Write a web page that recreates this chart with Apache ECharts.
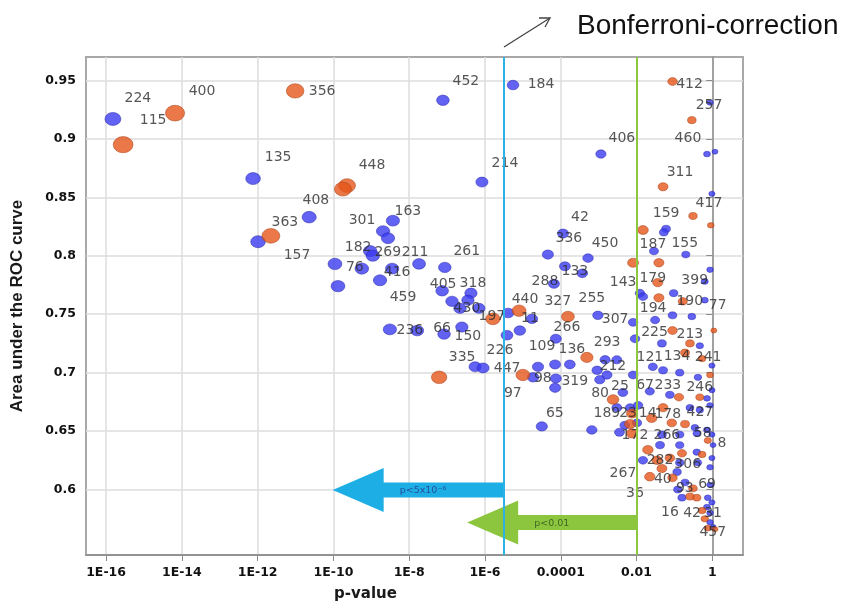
<!DOCTYPE html>
<html>
<head>
<meta charset="utf-8">
<script src="https://cdn.jsdelivr.net/npm/echarts@6/dist/echarts.min.js"></script>
<style>
  html, body { margin: 0; background: #fff; }
  #chart { width: 846px; height: 604px; }
</style>
</head>
<body>
<div id="chart"></div>
<script>
// x is log10(p-value)
const xTicks = [-16, -14, -12, -10, -8, -6, -4, -2, 0];
const xTickLabels = ["1E-16", "1E-14", "1E-12", "1E-10", "1E-8", "1E-6", "0.0001", "0.01", "1"];
const yTicks = [0.6, 0.65, 0.7, 0.75, 0.8, 0.85, 0.9, 0.95];

// vertical cut-offs: Bonferroni and p<0.01
const cutLogP = [-5.5, -2];

// blue markers
const blueLogP = [
  -15.82, -12.12, -11.99, -10.64, -8.69, -8.43, -8.56, -9.03, -8.96, -7.74,
  -9.25, -9.96, -9.88, -8.45, -8.77, -7.06, -7.13, -6.37, -6.87, -6.45,
  -6.66, -6.16, -5.39, -4.76, -5.08, -5.42, -8.51, -7.79, -7.08, -6.61,
  -6.26, -6.05, -4.73, -4.13, -4.60, -4.15, -4.15, -3.76, -2.97, -4.13,
  -4.18, -3.02, -2.09, -2.83, -2.52, -3.04, -2.78, -2.36, -2.09, -1.12,
  -4.50, -3.18, -2.52, -2.17, -0.46, -1.99, -1.33, -0.41, 0.02, -0.86,
  -1.83, -0.91, -0.06, -0.80, -0.06, -0.06, 0.07, -0.14, -0.01, -1.22,
  -1.28, -3.94, -4.34, -3.28, -1.54, -0.70, -3.89, -3.43, -0.20, -0.06,
  -1.91, -1.51, -1.83, -1.02, -0.20, -1.05, -0.54, -1.33, -0.33, -2.04,
  -0.01, -1.30, -1.57, -0.86, -0.38, -0.14, -1.65, -0.01, -1.96, -0.59,
  -0.33, -0.06, -0.14, -0.86, -0.01, -1.38, -0.86, -0.41, -0.38, -0.01,
  -0.06, -0.72, -0.12, -0.14, -0.06, 0.02, -0.01, -0.93, -2.31, -2.45,
  -7.11, -5.26, -6.08, -2.94
];
const blueAuc = [
  0.917, 0.866, 0.812, 0.833, 0.821, 0.830, 0.815, 0.804, 0.800, 0.793,
  0.789, 0.793, 0.774, 0.789, 0.779, 0.790, 0.770, 0.768, 0.761, 0.762,
  0.755, 0.755, 0.751, 0.746, 0.736, 0.732, 0.737, 0.736, 0.733, 0.739,
  0.705, 0.704, 0.696, 0.695, 0.705, 0.687, 0.707, 0.707, 0.694, 0.729,
  0.776, 0.749, 0.743, 0.711, 0.711, 0.702, 0.698, 0.683, 0.698, 0.681,
  0.654, 0.651, 0.670, 0.670, 0.653, 0.657, 0.647, 0.648, 0.638, 0.623,
  0.625, 0.600, 0.604, 0.593, 0.580, 0.931, 0.889, 0.887, 0.853, 0.823,
  0.820, 0.819, 0.801, 0.798, 0.804, 0.801, 0.791, 0.785, 0.778, 0.788,
  0.768, 0.745, 0.765, 0.768, 0.762, 0.749, 0.748, 0.725, 0.723, 0.729,
  0.706, 0.702, 0.705, 0.700, 0.696, 0.678, 0.684, 0.685, 0.672, 0.670,
  0.668, 0.672, 0.651, 0.647, 0.647, 0.638, 0.638, 0.632, 0.623, 0.627,
  0.619, 0.606, 0.593, 0.585, 0.572, 0.568, 0.589, 0.615, 0.655, 0.649,
  0.933, 0.946, 0.863, 0.887
];
const blueTag = [
  "224", "135", "157", "", "301", "163", "", "182", "269", "211",
  "76", "", "", "416", "459", "261", "405", "318", "", "",
  "430", "", "", "11", "", "226", "236", "", "66", "150",
  "335", "447", "", "98", "109", "", "", "136", "319", "327",
  "288", "255", "307", "293", "212", "", "", "25", "67", "233",
  "65", "", "189", "23", "427", "", "266", "58", "8", "306",
  "267", "93", "69", "16", "31", "257", "460", "", "417", "159",
  "", "42", "336", "450", "187", "155", "133", "", "399", "",
  "", "194", "", "", "77", "", "213", "121", "", "",
  "", "", "", "", "", "", "", "", "", "",
  "", "", "", "", "", "", "", "", "", "",
  "", "", "", "", "", "", "", "", "", "",
  "452", "184", "214", "406"
];

// orange markers
const orangeLogP = [
  -15.55, -14.18, -11.01, -11.65, -9.64, -9.75, -5.79, -5.10, -7.21, -5.00,
  -3.31, -3.81, -2.62, -0.33, -1.60, -1.07, -2.17, -2.12, -1.46, -1.65,
  -1.33, -0.27, -0.12, -1.05, -0.54, -1.30, -0.51, -0.04, -1.83, -2.09,
  -1.41, -1.44, -0.78, 0.04, -1.05, -0.72, -0.27, -0.59, -0.06, -0.88,
  -1.30, -0.72, -0.12, -1.70, -0.80, -1.12, -0.27, -1.05, -0.51, -0.59,
  -0.41, -0.20, 0.07, -1.41, -2.12
];
const orangeAuc = [
  0.895, 0.922, 0.941, 0.817, 0.860, 0.857, 0.746, 0.753, 0.696, 0.698,
  0.713, 0.748, 0.677, 0.679, 0.661, 0.657, 0.656, 0.648, 0.625, 0.611,
  0.618, 0.582, 0.567, 0.949, 0.916, 0.859, 0.834, 0.826, 0.822, 0.794,
  0.794, 0.777, 0.761, 0.736, 0.736, 0.717, 0.712, 0.725, 0.698, 0.679,
  0.670, 0.656, 0.642, 0.634, 0.631, 0.627, 0.630, 0.610, 0.601, 0.594,
  0.593, 0.575, 0.566, 0.764, 0.665
];
const orangeTag = [
  "115", "400", "356", "363", "448", "408", "197", "440", "", "97",
  "", "266", "80", "246", "14", "178", "", "172", "282", "40",
  "36", "42", "457", "412", "", "311", "", "", "", "143",
  "", "179", "190", "", "225", "134", "241", "", "", "",
  "", "", "", "", "", "", "", "", "", "",
  "", "", "", "", ""
];

// arrows in the lower part: tip, tail (log10 p) and height (AUC)
const arrowTip = [-10.02, -6.47];
const arrowTail = [-5.5, -2.0];
const arrowAuc = [0.5996, 0.5718];
const arrowText = ["p<5x10\u207B\u2076", "p<0.01"];

// label offsets in pixels, relative to the marker centre
const blueShift = {
  224: [25, -21], 135: [25, -21], 157: [39, 14], 301: [-21, -11], 163: [15, -9],
  182: [-12, -4], 269: [15, -3], 211: [-4, -12], 76: [-7, -1], 416: [5, 4],
  459: [23, 17], 261: [22, -16], 405: [1, -6], 318: [2, -10], 430: [7, 0],
  11: [-2, 0], 226: [-7, 15], 236: [20, 1], 66: [-2, -6], 150: [6, 9],
  335: [-13, -9], 447: [24, 0], 98: [-13, 0], 109: [4, -20], 136: [2, -15],
  319: [-25, 2], 327: [2, -37], 288: [-9, -2], 255: [-6, -17], 307: [-18, -3],
  293: [2, -17], 212: [-4, 7], 25: [-3, -6], 67: [12, 10], 233: [-2, -9],
  65: [13, -13], 189: [-10, 6], 23: [-2, 6], 427: [5, -15], 266: [5, 1],
  58: [6, 0], 8: [9, -2], 306: [8, 2], 267: [-20, 13], 93: [7, -1],
  69: [-3, 0], 16: [-12, 15], 31: [3, 0], 257: [-1, 3], 460: [-27, -13],
  417: [-3, 10], 159: [0, -15], 42: [17, -16], 336: [21, -16], 450: [17, -15],
  187: [-1, -7], 155: [-1, -11], 133: [10, 5], 399: [-10, -1], 194: [-2, -12],
  77: [13, 5], 213: [-2, 18], 121: [-12, 14], 452: [23, -19], 184: [28, -1],
  214: [23, -19], 406: [21, -16]
};
const orangeShift = {
  115: [30, -24], 400: [27, -22], 356: [27, 0], 363: [14, -13], 448: [25, -20],
  408: [-27, 11], 197: [-1, -2], 440: [6, -11], 97: [-10, 18], 266: [-1, 11],
  80: [-13, -6], 246: [0, -10], 14: [-4, -5], 178: [-4, -9], 172: [3, 2],
  282: [3, 0], 40: [13, 3], 36: [-27, 25], 42: [-10, 3], 457: [5, 4],
  412: [17, 3], 311: [17, -14], 143: [-10, 20], 179: [-5, -4], 190: [7, 0],
  225: [-18, 2], 134: [-8, 4], 241: [6, -1]
};

const BLUE = "#3b3bf0";
const ORANGE = "#e5561c";
const ELLIPSE = "path://M0,5a7,5 0 1,0 14,0a7,5 0 1,0 -14,0z";

function markerWidth(lp, k) {
  return 6 + k * Math.sqrt(Math.max(0, -lp) / 16);
}

function buildPoints(logP, auc, tags, shift, k) {
  return logP.map((lp, i) => {
    const w = markerWidth(lp, k);
    const item = { value: [lp, auc[i]], symbolSize: [w, w * 0.82] };
    if (tags[i]) {
      item.label = {
        show: true,
        formatter: tags[i],
        offset: shift[tags[i]] || [12, -10]
      };
    }
    return item;
  });
}

const pointLabel = {
  show: false,
  position: "inside",
  color: "#2b2b2b",
  fontSize: 14,
  fontFamily: "DejaVu Sans",
  textBorderWidth: 0,
  align: "center",
  verticalAlign: "middle"
};

const chart = echarts.init(document.getElementById("chart"));

const option = {
  animation: false,
  backgroundColor: "#fff",
  grid: {
    left: 86,
    right: 103,
    top: 57,
    bottom: 49,
    show: true,
    borderColor: "#a8a8a8",
    borderWidth: 2,
    outerBoundsMode: "none"
  },
  xAxis: {
    type: "value",
    min: -16.53,
    max: 0.81,
    name: "p-value",
    nameLocation: "middle",
    nameGap: 32,
    nameTextStyle: {
      fontFamily: "DejaVu Sans",
      fontWeight: "bold",
      fontSize: 15,
      color: "#1a1a1a",
      padding: [0, 98, 0, 0]
    },
    axisLine: { show: true, lineStyle: { color: "#8a8a8a", width: 1.5 } },
    axisTick: { show: true, customValues: xTicks, length: 6, lineStyle: { color: "#8a8a8a" } },
    axisLabel: {
      customValues: xTicks,
      margin: 11,
      fontFamily: "DejaVu Sans",
      fontWeight: "bold",
      fontSize: 12.5,
      color: "#111",
      formatter: (v) => xTickLabels[xTicks.indexOf(v)]
    },
    splitLine: { show: true, lineStyle: { color: "#dcdcdc", width: 1.5 } }
  },
  yAxis: {
    type: "value",
    min: 0.544,
    max: 0.97,
    name: "Area under the ROC curve",
    nameLocation: "middle",
    nameGap: 60,
    nameTextStyle: {
      fontFamily: "Liberation Sans",
      fontWeight: "bold",
      fontSize: 17,
      color: "#1a1a1a"
    },
    axisLine: { show: true, lineStyle: { color: "#8a8a8a", width: 1.5 } },
    axisTick: { show: true, customValues: yTicks, length: 6, lineStyle: { color: "#8a8a8a" } },
    axisLabel: {
      customValues: yTicks,
      margin: 10,
      fontFamily: "DejaVu Sans",
      fontWeight: "bold",
      fontSize: 12.5,
      color: "#111",
      formatter: (v) => String(v)
    },
    splitLine: { show: true, lineStyle: { color: "#dcdcdc", width: 1.5 } }
  },
  graphic: [
    {
      type: "text",
      x: 577,
      y: 26,
      style: {
        text: "Bonferroni-correction",
        fontFamily: "Liberation Sans",
        fontSize: 28,
        fill: "#111",
        verticalAlign: "middle"
      }
    },
    {
      type: "polyline",
      shape: { points: [[504, 47], [550, 18]] },
      style: { stroke: "#444", lineWidth: 1.3 }
    },
    {
      type: "polyline",
      shape: { points: [[539, 18], [550, 18], [545, 27]] },
      style: { stroke: "#444", lineWidth: 1.3, fill: null }
    }
  ],
  series: [
    {
      type: "custom",
      z: 1,
      silent: true,
      data: arrowTip.map((t, i) => [t, arrowTail[i], arrowAuc[i]]),
      encode: { x: [0, 1], y: 2 },
      renderItem: (params, api) => {
        const i = params.dataIndex;
        const tip = api.coord([api.value(0), api.value(2)]);
        const tail = api.coord([api.value(1), api.value(2)]);
        const headLen = 51, headHalf = 22, shaftHalf = 7.5;
        const bx = tip[0] + headLen;
        const y = tip[1];
        const fill = i === 0 ? "#1eaee6" : "#8cc63f";
        const txt = i === 0 ? "#24509a" : "#3d6a22";
        return {
          type: "group",
          children: [
            {
              type: "polygon",
              shape: {
                points: [
                  [tip[0], y], [bx, y - headHalf], [bx, y - shaftHalf],
                  [tail[0], y - shaftHalf], [tail[0], y + shaftHalf],
                  [bx, y + shaftHalf], [bx, y + headHalf]
                ]
              },
              style: { fill: fill }
            },
            {
              type: "text",
              style: {
                text: arrowText[i],
                x: bx + 16,
                y: y + 1,
                fontFamily: "DejaVu Sans",
                fontSize: 9.5,
                fill: txt,
                align: "left",
                verticalAlign: "middle"
              }
            }
          ]
        };
      }
    },
    {
      name: "blue",
      type: "scatter",
      z: 3,
      symbol: ELLIPSE,
      itemStyle: { color: BLUE, borderColor: "#2424a8", borderWidth: 0.6 },
      label: pointLabel,
      emphasis: { disabled: true },
      data: buildPoints(blueLogP, blueAuc, blueTag, blueShift, 10),
      markLine: {
        silent: true,
        symbol: "none",
        label: { show: false },
        data: cutLogP.map((v, i) => ({
          xAxis: v,
          lineStyle: { color: i === 0 ? "#2bb3e6" : "#8dc63f", width: 2, type: "solid" }
        }))
      }
    },
    {
      name: "orange",
      type: "scatter",
      z: 3,
      symbol: ELLIPSE,
      itemStyle: { color: ORANGE, borderColor: "#a4380c", borderWidth: 0.6 },
      label: pointLabel,
      emphasis: { disabled: true },
      data: buildPoints(orangeLogP, orangeAuc, orangeTag, orangeShift, 14)
    }
  ]
};

chart.setOption(option);
</script>
</body>
</html>
